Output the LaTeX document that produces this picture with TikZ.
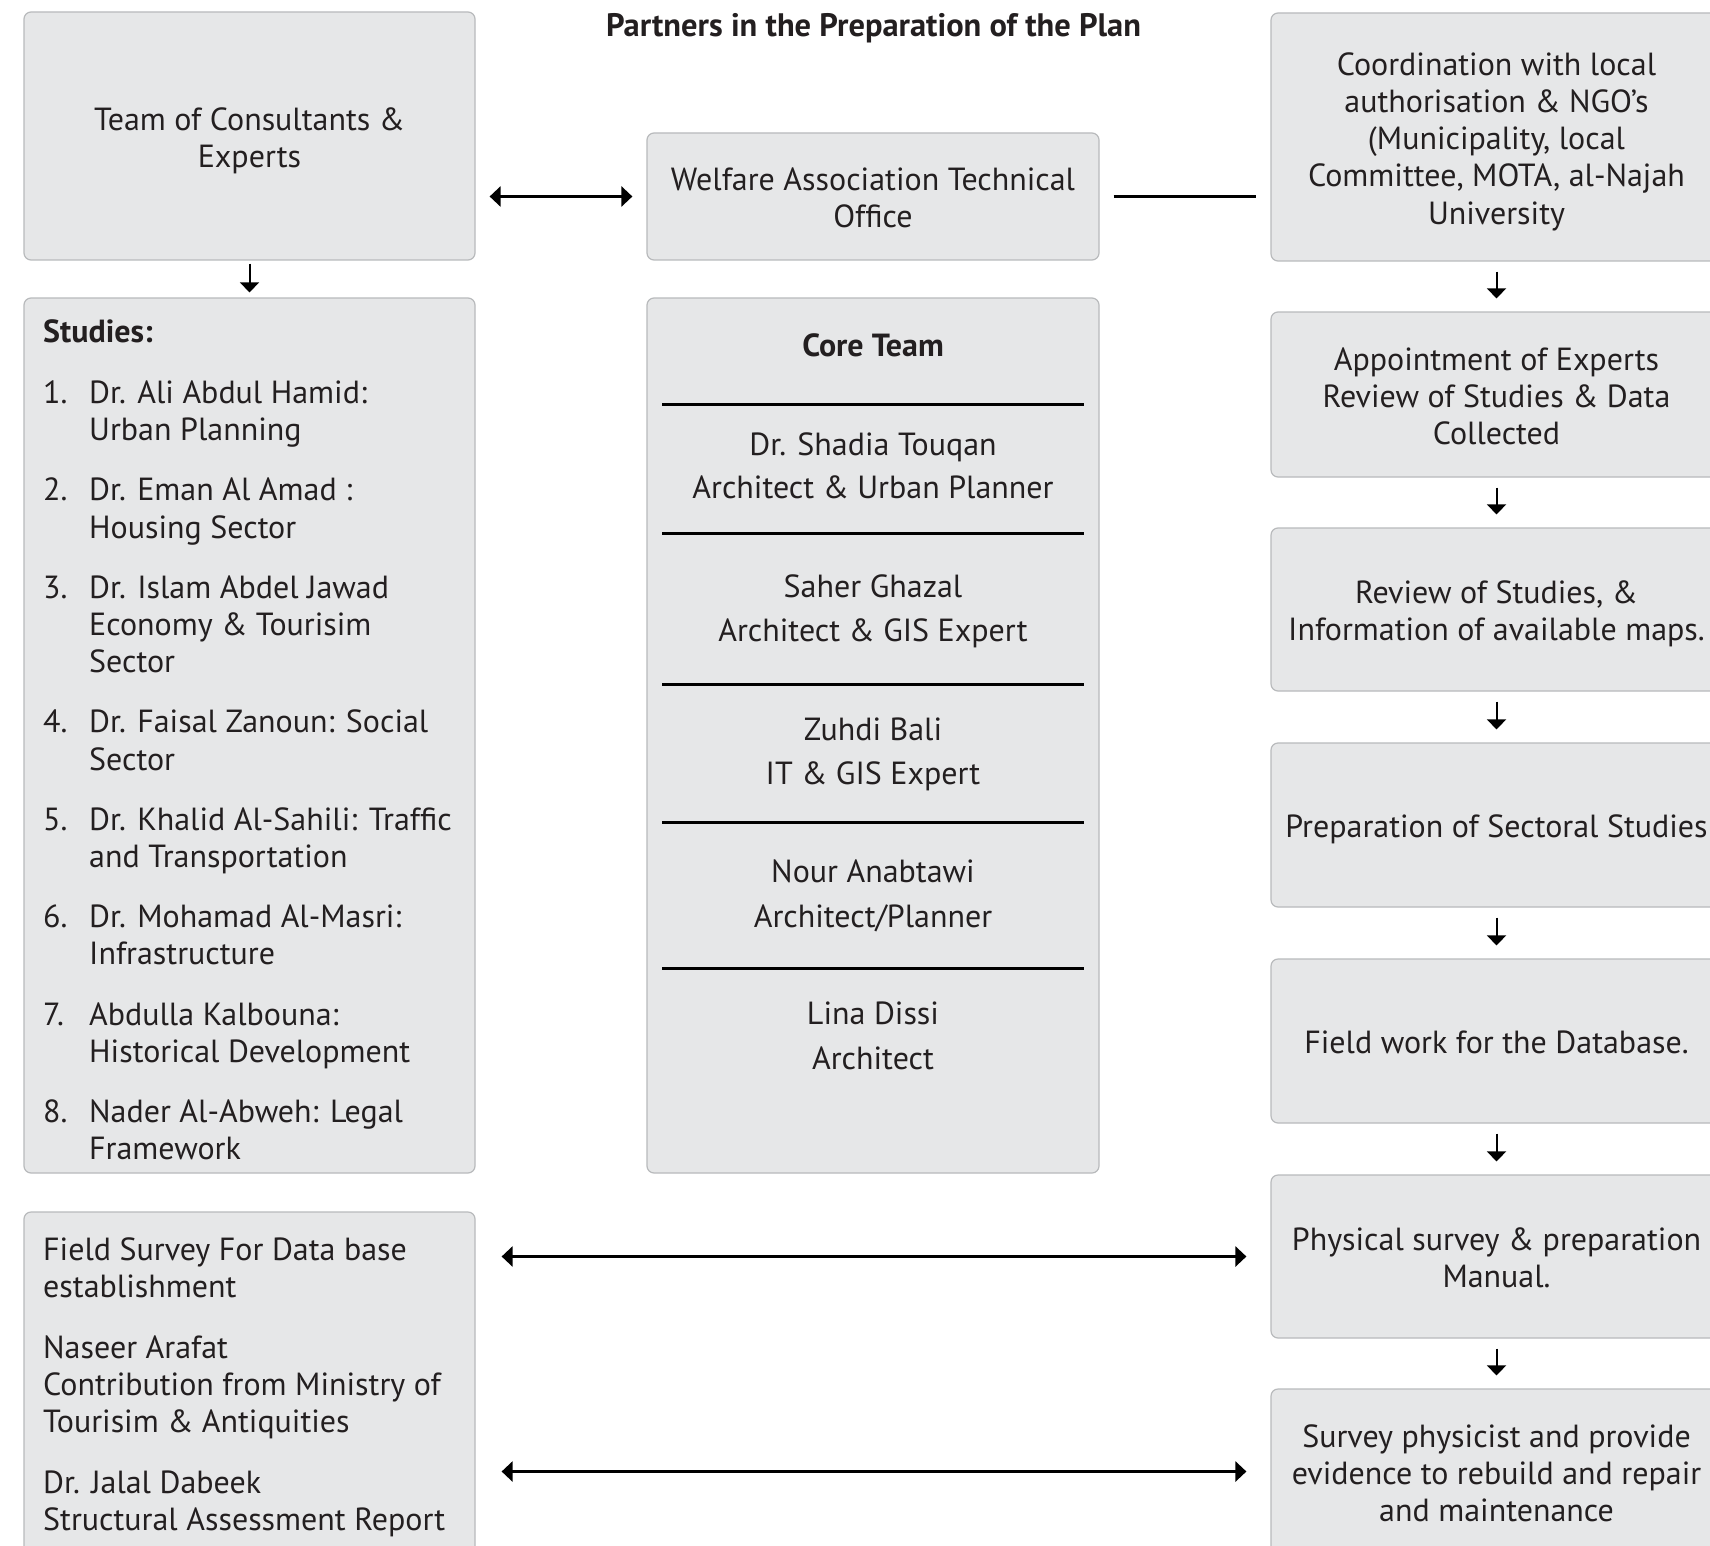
\documentclass[tikz,border=0pt]{standalone}
\usepackage{fontspec}
\setmainfont{PT Sans}
\usetikzlibrary{arrows.meta}
\definecolor{boxfill}{HTML}{E6E7E8}
\definecolor{boxline}{HTML}{B8BABC}
\definecolor{ink}{HTML}{231F20}
\newlength\calw
\newlength\calv
\newcommand\bodyfont{\fontsize{\bodysz pt}{37.2pt}\selectfont}
\newcommand\titlefont{\fontsize{\titlesz pt}{36pt}\selectfont\bfseries}
\newcommand\topstrut{\rule{0pt}{34.4pt}}
\newcommand\botstrut{\rule[-9pt]{0pt}{0pt}}
\begin{document}
\settowidth\calw{\fontsize{20pt}{24pt}\selectfont Preparation of Sectoral StudiesArchitect \& Urban PlannerDr. Khalid Al-Sahili: Traffic}
\pgfmathsetmacro\bodysz{1146/\calw*20}
\settowidth\calv{\fontsize{20pt}{24pt}\selectfont\bfseries Partners in the Preparation of the Plan}
\pgfmathsetmacro\titlesz{535/\calv*20}
\begin{tikzpicture}[x=1pt,y=-1pt,
  box/.style={draw=boxline, fill=boxfill, line width=1.2pt, rounded corners=7pt,
    inner sep=0pt, text=ink, font=\bodyfont, align=center, minimum width=451pt},
  conn/.style={draw=black, line width=2.6pt},
  dbl/.style={conn, {Triangle[length=11pt,width=20pt]}-{Triangle[length=11pt,width=20pt]}},
  down/.style={draw=black, line width=2pt, -{Triangle[length=10pt,width=19pt]}},
  divider/.style={draw=black, line width=3pt},
  txt/.style={inner sep=0pt, text=ink, font=\bodyfont, anchor=base},
  listtxt/.style={inner sep=0pt, text=ink, font=\bodyfont, anchor=north west, align=left},
]
\useasboundingbox (0,0) rectangle (1710,1546);
\fill[white] (0,0) rectangle (1710,1546);

% title
\node[txt, font=\titlefont] (title) at (873.5,37) {Partners in the Preparation of the Plan};

% left column
\node[box, minimum height=248pt] (team) at (249.5,136) {\topstrut Team of Consultants \&\\Experts\botstrut};
\node[box, minimum height=875pt] (studies) at (249.5,735.5) {};
\node[box, minimum height=358pt] (fsurvey) at (249.5,1391) {};

% middle column
\node[box, minimum width=452pt, minimum height=127pt] (welfare) at (873,196.5) {\topstrut Welfare Association Technical\\Office\botstrut};
\node[box, minimum width=452pt, minimum height=875pt] (core) at (873,735.5) {};

% right column
\node[box, minimum height=248pt] (coord) at (1496.5,137) {\topstrut Coordination with local\\authorisation \& NGO’s\\(Municipality, local\\Committee, MOTA, al-Najah\\University\botstrut};
\node[box, minimum height=165pt] (appoint) at (1496.5,394.5) {\topstrut Appointment of Experts\\Review of Studies \& Data\\Collected\botstrut};
\node[box, minimum height=163pt] (review) at (1496.5,609.5) {\topstrut Review of Studies, \&\\Information of available maps.\botstrut};
\node[box, minimum height=164pt] (prep) at (1496.5,825) {\topstrut Preparation of Sectoral Studies\botstrut};
\node[box, minimum height=164pt] (fwork) at (1496.5,1041) {\topstrut Field work for the Database.\botstrut};
\node[box, minimum height=163pt] (phys) at (1496.5,1256.5) {\topstrut Physical survey \& preparation\\Manual.\botstrut};
\node[box, minimum height=165pt] (sphys) at (1496.5,1471.5) {\topstrut Survey physicist and provide\\evidence to rebuild and repair\\and maintenance\botstrut};

% studies list
\node[listtxt] (studiestxt) at (43,315.96) {\strut\textbf{Studies:}\\[24pt]
\makebox[46pt][l]{1.}Dr. Ali Abdul Hamid:\\
\hspace*{46pt}Urban Planning\\[23pt]
\makebox[46pt][l]{2.}Dr. Eman Al Amad :\\
\hspace*{46pt}Housing Sector\\[23pt]
\makebox[46pt][l]{3.}Dr. Islam Abdel Jawad\\
\hspace*{46pt}Economy \& Tourisim\\
\hspace*{46pt}Sector\\[23pt]
\makebox[46pt][l]{4.}Dr. Faisal Zanoun: Social\\
\hspace*{46pt}Sector\\[23pt]
\makebox[46pt][l]{5.}Dr. Khalid Al-Sahili: Traffic\\
\hspace*{46pt}and Transportation\\[23pt]
\makebox[46pt][l]{6.}Dr. Mohamad Al-Masri:\\
\hspace*{46pt}Infrastructure\\[23pt]
\makebox[46pt][l]{7.}Abdulla Kalbouna:\\
\hspace*{46pt}Historical Development\\[23pt]
\makebox[46pt][l]{8.}Nader Al-Abweh: Legal\\
\hspace*{46pt}Framework};

% field survey text
\node[listtxt] (fsurveytxt) at (43,1233.96) {\strut Field Survey For Data base\\
establishment\\[23.4pt]
Naseer Arafat\\
Contribution from Ministry of\\
Tourisim \& Antiquities\\[23.4pt]
Dr. Jalal Dabeek\\
Structural Assessment Report};

% core team
\node[txt, font=\bodyfont\bfseries] (coretitle) at (873,356) {Core Team};
\draw[divider] (662,404) -- (1084,404);
\node[txt] (m1a) at (873,455) {Dr. Shadia Touqan};
\node[txt] (m1b) at (873,498) {Architect \& Urban Planner};
\draw[divider] (662,533) -- (1084,533);
\node[txt] (m2a) at (873,597) {Saher Ghazal};
\node[txt] (m2b) at (873,641.5) {Architect \& GIS Expert};
\draw[divider] (662,684) -- (1084,684);
\node[txt] (m3a) at (873,740) {Zuhdi Bali};
\node[txt] (m3b) at (873,784) {IT \& GIS Expert};
\draw[divider] (662,822) -- (1084,822);
\node[txt] (m4a) at (873,882) {Nour Anabtawi};
\node[txt] (m4b) at (873,927) {Architect/Planner};
\draw[divider] (662,968) -- (1084,968);
\node[txt] (m5a) at (873,1024) {Lina Dissi};
\node[txt] (m5b) at (873,1069) {Architect};

% connectors
\draw[down, shorten <=3pt, shorten >=5pt] (team.south) -- (studies.north);
\draw[dbl, shorten <=14pt, shorten >=14pt] (team.east |- welfare.west) -- (welfare.west);
\draw[conn, shorten <=14pt, shorten >=14pt] (welfare.east) -- (welfare.east -| coord.west);
\foreach \a/\b in {coord/appoint, appoint/review, review/prep, prep/fwork, fwork/phys, phys/sphys}
  \draw[down, shorten <=10pt, shorten >=13pt] (\a.south) -- (\b.north);
\draw[dbl, shorten <=26pt, shorten >=24pt] (fsurvey.east |- phys.west) -- (phys.west);
\draw[dbl, shorten <=26pt, shorten >=24pt] (fsurvey.east |- sphys.west) -- (sphys.west);
\end{tikzpicture}
\end{document}
